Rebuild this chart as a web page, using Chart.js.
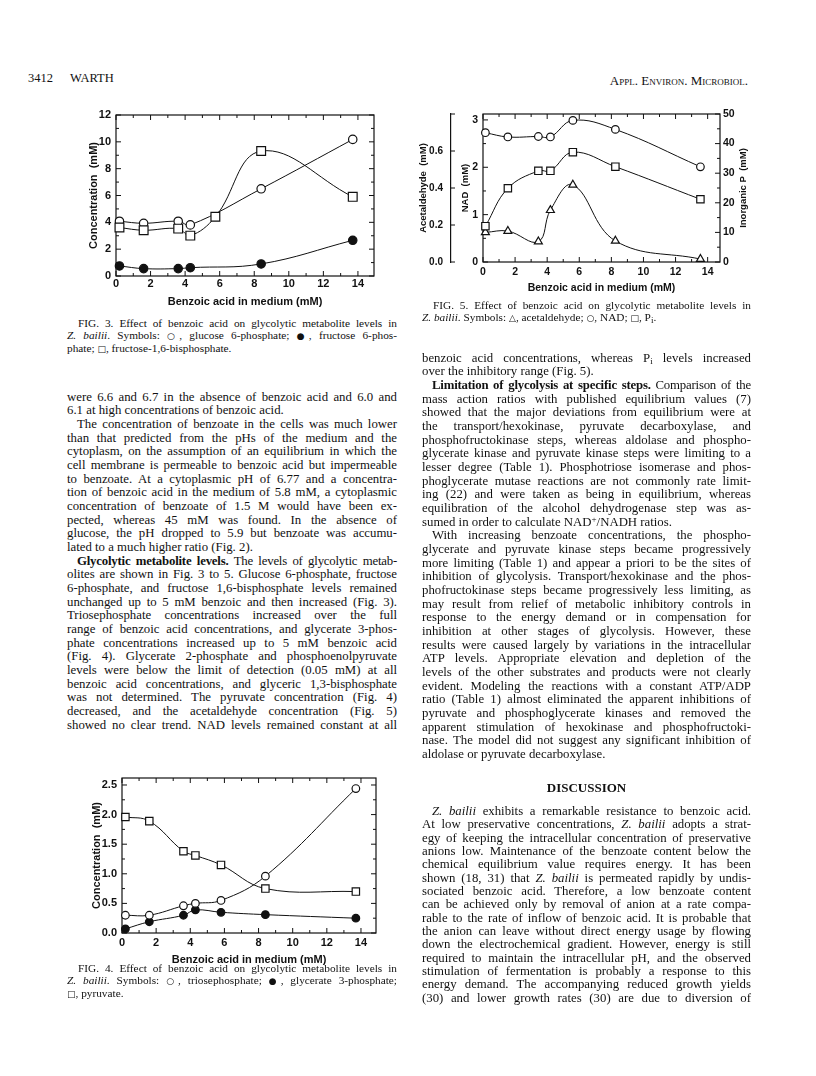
<!DOCTYPE html>
<html>
<head>
<meta charset="utf-8">
<script src="https://cdn.jsdelivr.net/npm/chart.js@4"></script>
<style>
  html, body { margin: 0; padding: 0; background: #fff; }
  body { width: 816px; height: 1076px; position: relative; overflow: hidden; color: #111; }
  .abs { position: absolute; }
  canvas { position: absolute; }
  .hdr { font-family: 'Liberation Serif', serif; font-size: 12.5px; line-height: 14px; }
  .col { position: absolute; font-family: 'Liberation Serif', serif; font-size: 12.8px; }
  .col div { text-align: justify; text-align-last: justify; }
  .col div.e { text-align-last: left; }
  .col div.i { text-indent: 10px; }
  .col div.t { letter-spacing: -0.2px; }
  .cap { position: absolute; font-family: 'Liberation Serif', serif; font-size: 11.3px; line-height: 12px; }
  .cap div { text-align: justify; text-align-last: justify; }
  .cap div.e { text-align-last: left; }
  .cap div.i { text-indent: 11px; }
  sub { font-size: 9px; vertical-align: -2px; line-height: 0; }
  sup { font-size: 9px; vertical-align: 4px; line-height: 0; }
  .sym { font-family: 'DejaVu Sans', sans-serif; font-size: 9px; }
</style>
</head>
<body>

<div class="abs hdr" style="left:28px; top:71px;">3412</div>
<div class="abs hdr" style="left:70px; top:71px;">WARTH</div>
<div class="abs hdr" style="left:560px; width:188px; top:74px; text-align:right; font-variant: small-caps; font-size:13px;">Appl. Environ. Microbiol.</div>

<canvas id="fig3" width="330" height="215" style="left:60px; top:100px;"></canvas>
<canvas id="fig5" width="350" height="200" style="left:410px; top:100px;"></canvas>
<canvas id="fig4" width="330" height="205" style="left:60px; top:765px;"></canvas>

<div class="cap" style="left:67px; width:330px; top:316.7px;">
  <div class="i">FIG. 3. Effect of benzoic acid on glycolytic metabolite levels in</div>
  <div><i>Z. bailii</i>. Symbols: <span class="sym">○</span>, glucose 6-phosphate; <span class="sym">●</span>, fructose 6-phos-</div>
  <div class="e">phate; <span class="sym">□</span>, fructose-1,6-bisphosphate.</div>
</div>

<div class="cap" style="left:422px; width:329px; top:298.5px;">
  <div class="i">FIG. 5. Effect of benzoic acid on glycolytic metabolite levels in</div>
  <div class="e"><i>Z. bailii</i>. Symbols: <span class="sym">△</span>, acetaldehyde; <span class="sym">○</span>, NAD; <span class="sym">□</span>, P<sub>i</sub>.</div>
</div>

<div class="cap" style="left:67px; width:330px; top:962px;">
  <div class="i">FIG. 4. Effect of benzoic acid on glycolytic metabolite levels in</div>
  <div><i>Z. bailii</i>. Symbols: <span class="sym">○</span>, triosephosphate; <span class="sym">●</span>, glycerate 3-phosphate;</div>
  <div class="e"><span class="sym">□</span>, pyruvate.</div>
</div>

<div class="col" style="left:67px; width:330px; top:390.5px; line-height:13.67px;">
  <div>were 6.6 and 6.7 in the absence of benzoic acid and 6.0 and</div>
  <div class="e">6.1 at high concentrations of benzoic acid.</div>
  <div class="i">The concentration of benzoate in the cells was much lower</div>
  <div>than that predicted from the pHs of the medium and the</div>
  <div>cytoplasm, on the assumption of an equilibrium in which the</div>
  <div>cell membrane is permeable to benzoic acid but impermeable</div>
  <div>to benzoate. At a cytoplasmic pH of 6.77 and a concentra-</div>
  <div>tion of benzoic acid in the medium of 5.8 mM, a cytoplasmic</div>
  <div>concentration of benzoate of 1.5 M would have been ex-</div>
  <div>pected, whereas 45 mM was found. In the absence of</div>
  <div>glucose, the pH dropped to 5.9 but benzoate was accumu-</div>
  <div class="e">lated to a much higher ratio (Fig. 2).</div>
  <div class="i t"><b>Glycolytic metabolite levels.</b> The levels of glycolytic metab-</div>
  <div>olites are shown in Fig. 3 to 5. Glucose 6-phosphate, fructose</div>
  <div>6-phosphate, and fructose 1,6-bisphosphate levels remained</div>
  <div>unchanged up to 5 mM benzoic and then increased (Fig. 3).</div>
  <div>Triosephosphate concentrations increased over the full</div>
  <div>range of benzoic acid concentrations, and glycerate 3-phos-</div>
  <div>phate concentrations increased up to 5 mM benzoic acid</div>
  <div>(Fig. 4). Glycerate 2-phosphate and phosphoenolpyruvate</div>
  <div>levels were below the limit of detection (0.05 mM) at all</div>
  <div>benzoic acid concentrations, and glyceric 1,3-bisphosphate</div>
  <div>was not determined. The pyruvate concentration (Fig. 4)</div>
  <div>decreased, and the acetaldehyde concentration (Fig. 5)</div>
  <div>showed no clear trend. NAD levels remained constant at all</div>
</div>

<div class="col" style="left:422px; width:329px; top:351.5px; line-height:13.67px;">
  <div>benzoic acid concentrations, whereas P<sub>i</sub> levels increased</div>
  <div class="e">over the inhibitory range (Fig. 5).</div>
  <div class="i t"><b>Limitation of glycolysis at specific steps.</b> Comparison of the</div>
  <div>mass action ratios with published equilibrium values (7)</div>
  <div>showed that the major deviations from equilibrium were at</div>
  <div>the transport/hexokinase, pyruvate decarboxylase, and</div>
  <div>phosphofructokinase steps, whereas aldolase and phospho-</div>
  <div>glycerate kinase and pyruvate kinase steps were limiting to a</div>
  <div>lesser degree (Table 1). Phosphotriose isomerase and phos-</div>
  <div>phoglycerate mutase reactions are not commonly rate limit-</div>
  <div>ing (22) and were taken as being in equilibrium, whereas</div>
  <div>equilibration of the alcohol dehydrogenase step was as-</div>
  <div class="e">sumed in order to calculate NAD<sup>+</sup>/NADH ratios.</div>
  <div class="i">With increasing benzoate concentrations, the phospho-</div>
  <div>glycerate and pyruvate kinase steps became progressively</div>
  <div>more limiting (Table 1) and appear a priori to be the sites of</div>
  <div>inhibition of glycolysis. Transport/hexokinase and the phos-</div>
  <div>phofructokinase steps became progressively less limiting, as</div>
  <div>may result from relief of metabolic inhibitory controls in</div>
  <div>response to the energy demand or in compensation for</div>
  <div>inhibition at other stages of glycolysis. However, these</div>
  <div>results were caused largely by variations in the intracellular</div>
  <div>ATP levels. Appropriate elevation and depletion of the</div>
  <div>levels of the other substrates and products were not clearly</div>
  <div>evident. Modeling the reactions with a constant ATP/ADP</div>
  <div>ratio (Table 1) almost eliminated the apparent inhibitions of</div>
  <div>pyruvate and phosphoglycerate kinases and removed the</div>
  <div>apparent stimulation of hexokinase and phosphofructoki-</div>
  <div>nase. The model did not suggest any significant inhibition of</div>
  <div class="e">aldolase or pyruvate decarboxylase.</div>
</div>

<div class="abs" style="left:422px; width:329px; top:780px; text-align:center; font-family:'Liberation Serif',serif; font-size:13px; font-weight:bold; line-height:15px;">DISCUSSION</div>

<div class="col" style="left:422px; width:329px; top:805px; line-height:13.35px;">
  <div class="i"><i>Z. bailii</i> exhibits a remarkable resistance to benzoic acid.</div>
  <div>At low preservative concentrations, <i>Z. bailii</i> adopts a strat-</div>
  <div>egy of keeping the intracellular concentration of preservative</div>
  <div>anions low. Maintenance of the benzoate content below the</div>
  <div>chemical equilibrium value requires energy. It has been</div>
  <div>shown (18, 31) that <i>Z. bailii</i> is permeated rapidly by undis-</div>
  <div>sociated benzoic acid. Therefore, a low benzoate content</div>
  <div>can be achieved only by removal of anion at a rate compa-</div>
  <div>rable to the rate of inflow of benzoic acid. It is probable that</div>
  <div>the anion can leave without direct energy usage by flowing</div>
  <div>down the electrochemical gradient. However, energy is still</div>
  <div>required to maintain the intracellular pH, and the observed</div>
  <div>stimulation of fermentation is probably a response to this</div>
  <div>energy demand. The accompanying reduced growth yields</div>
  <div>(30) and lower growth rates (30) are due to diversion of</div>
</div>

<script>
// ---------------- DATA ----------------
// Fig. 3 (x = benzoic acid in medium, mM; y = concentration, mM)
const fig3G6PX = [0.2, 1.6, 3.6, 4.3, 8.4, 13.7];
const fig3G6P  = [4.08, 3.93, 4.08, 3.81, 6.5, 10.18];     // glucose 6-phosphate (open circles)
const fig3F6PX = [0.2, 1.6, 3.6, 4.3, 8.4, 13.7];
const fig3F6P  = [0.75, 0.55, 0.55, 0.62, 0.9, 2.66];       // fructose 6-phosphate (filled circles)
const fig3FBPX = [0.2, 1.6, 3.6, 4.3, 5.75, 8.4, 13.7];
const fig3FBP  = [3.61, 3.41, 3.53, 3.01, 4.41, 9.31, 5.9]; // fructose-1,6-bisphosphate (squares)

// Fig. 4
const fig4X        = [0.2, 1.6, 3.6, 4.3, 5.8, 8.4, 13.7];
const fig4Triose   = [0.30, 0.30, 0.46, 0.50, 0.55, 0.96, 2.44]; // open circles
const fig4Glyc3P   = [0.07, 0.19, 0.30, 0.39, 0.35, 0.31, 0.25]; // filled circles
const fig4Pyruvate = [1.96, 1.89, 1.38, 1.31, 1.15, 0.75, 0.70]; // squares

// Fig. 5
const fig5X            = [0.15, 1.55, 3.45, 4.2, 5.6, 8.25, 13.55];
const fig5Acetaldehyde = [0.16, 0.167, 0.11, 0.28, 0.417, 0.114, 0.016]; // triangles, left outer axis
const fig5NAD          = [2.73, 2.64, 2.65, 2.64, 2.99, 2.80, 2.01];     // circles, NAD axis
const fig5Pi           = [12.1, 24.9, 30.8, 30.8, 37.1, 32.2, 21.2];     // squares, inorganic P axis

// Tick values
const ticksX = [0, 2, 4, 6, 8, 10, 12, 14];
const ticksFig3Y = [0, 2, 4, 6, 8, 10, 12];
const ticksFig4Y = [0, 0.5, 1.0, 1.5, 2.0, 2.5];
const ticksFig5Ac = [0, 0.2, 0.4, 0.6];
const ticksFig5NAD = [0, 1, 2, 3];
const ticksFig5Pi = [0, 10, 20, 30, 40, 50];

// ---------------- HELPERS ----------------
const INK = '#111';
Chart.defaults.font.family = "'Liberation Sans', 'Arial', sans-serif";
Chart.defaults.font.weight = 'bold';
Chart.defaults.color = INK;

function pts(xs, ys) { return xs.map((x, i) => ({ x: x, y: ys[i] })); }

function series(xs, ys, kind, r, axis) {
  const d = {
    data: pts(xs, ys),
    borderColor: INK,
    borderWidth: 1,
    tension: 0.4,
    fill: false,
    clip: false,
    pointRadius: r,
    pointBorderColor: INK,
    pointBorderWidth: 1.2,
    pointBackgroundColor: kind === 'filled' ? INK : '#fff',
    pointStyle: kind === 'square' ? 'rect' : (kind === 'triangle' ? 'triangle' : 'circle')
  };
  if (axis) d.yAxisID = axis;
  return d;
}

function onlyListed(list, digits) {
  return function (v) {
    for (const t of list) if (Math.abs(t - v) < 1e-6) return digits ? v.toFixed(digits) : String(v);
    return null;
  };
}

function frameTicks(specs, extra) {
  return {
    id: 'frameTicks',
    beforeDatasetsDraw(chart) {
      const ctx = chart.ctx, a = chart.chartArea;
      ctx.save();
      ctx.strokeStyle = INK;
      ctx.lineWidth = 1.2;
      ctx.strokeRect(a.left, a.top, a.right - a.left, a.bottom - a.top);
      ctx.lineWidth = 1;
      for (const s of specs) {
        const sc = chart.scales[s.id];
        const n = Math.floor((sc.max - sc.min) / s.minor + 1e-6);
        ctx.beginPath();
        for (let k = 0; k <= n; k++) {
          const v = sc.min + k * s.minor;
          const major = Math.abs(v / s.major - Math.round(v / s.major)) < 1e-6;
          const len = major ? 5 : 3;
          const p = sc.getPixelForValue(v);
          for (const side of s.sides) {
            if (side === 'bottom') { ctx.moveTo(p, a.bottom); ctx.lineTo(p, a.bottom - len); }
            if (side === 'top') { ctx.moveTo(p, a.top); ctx.lineTo(p, a.top + len); }
            if (side === 'left') { ctx.moveTo(a.left, p); ctx.lineTo(a.left + len, p); }
            if (side === 'right') { ctx.moveTo(a.right, p); ctx.lineTo(a.right - len, p); }
            if (side === 'axis' && major) { ctx.moveTo(sc.right, p); ctx.lineTo(sc.right + 4, p); }
          }
        }
        ctx.stroke();
      }
      ctx.restore();
    },
    afterDraw(chart) { if (extra) extra(chart); }
  };
}

function xScale(max, h, fontSize, labelPad, titlePad) {
  return {
    type: 'linear', position: 'bottom', min: 0, max: max,
    grid: { display: false, drawTicks: false, tickLength: 0 }, border: { display: false },
    afterBuildTicks(s) { s.ticks = ticksX.map(v => ({ value: v })); },
    ticks: { autoSkip: false, maxRotation: 0, padding: labelPad, font: { size: fontSize }, callback: onlyListed(ticksX, 0) },
    title: { display: true, text: 'Benzoic acid in medium (mM)', font: { size: fontSize }, padding: { top: 0, bottom: titlePad } },
    afterFit(s) { s.height = h; }
  };
}

function yScale(list, digits, max, w, fontSize, labelPad, titleText, titleSize, titlePad, pos) {
  return {
    type: 'linear', position: pos || 'left', min: 0, max: max,
    grid: { display: false, drawTicks: false, tickLength: 0 }, border: { display: false },
    afterBuildTicks(s) { s.ticks = list.map(v => ({ value: v })); },
    ticks: { autoSkip: false, padding: labelPad, font: { size: fontSize }, callback: onlyListed(list, digits) },
    title: { display: !!titleText, text: titleText || '', font: { size: titleSize }, padding: { top: titlePad, bottom: 0 } },
    afterFit(s) { s.width = w; }
  };
}

const common = {
  responsive: false, animation: false, devicePixelRatio: 1,
  plugins: { legend: { display: false }, tooltip: { enabled: false } }
};

// ---------------- FIG 3 ----------------
new Chart(document.getElementById('fig3'), {
  type: 'line',
  data: { datasets: [
    series(fig3FBPX, fig3FBP, 'square', 6.2),
    series(fig3G6PX, fig3G6P, 'open', 4.2),
    series(fig3F6PX, fig3F6P, 'filled', 4.2)
  ] },
  options: Object.assign({}, common, {
    layout: { padding: { left: 0, right: 16, top: 15, bottom: 0 } },
    scales: {
      x: xScale(14.93, 39, 11, 1, 6),
      y: yScale(ticksFig3Y, 0, 12, 56, 11, 5, 'Concentration  (mM)', 11, 27.4)
    }
  }),
  plugins: [frameTicks([
    { id: 'x', major: 2, minor: 1, sides: ['bottom', 'top'] },
    { id: 'y', major: 2, minor: 1, sides: ['left', 'right'] }
  ])]
});

// ---------------- FIG 4 ----------------
new Chart(document.getElementById('fig4'), {
  type: 'line',
  data: { datasets: [
    series(fig4X, fig4Pyruvate, 'square', 5.2),
    series(fig4X, fig4Triose, 'open', 3.8),
    series(fig4X, fig4Glyc3P, 'filled', 3.8)
  ] },
  options: Object.assign({}, common, {
    layout: { padding: { left: 0, right: 14, top: 13, bottom: 0 } },
    scales: {
      x: xScale(14.88, 37, 11, 3, 3),
      y: yScale(ticksFig4Y, 1, 2.618, 62, 11, 5, 'Concentration  (mM)', 11, 29.9)
    }
  }),
  plugins: [frameTicks([
    { id: 'x', major: 2, minor: 1, sides: ['bottom', 'top'] },
    { id: 'y', major: 0.5, minor: 0.25, sides: ['left', 'right'] }
  ])]
});

// ---------------- FIG 5 ----------------
const yAc = yScale(ticksFig5Ac, 1, 0.8, 41, 10, 8, 'Acetaldehyde  (mM)', 9.5, 7.3);
yAc.weight = 1;
yAc.border = { display: true, color: INK, width: 1.2 };
const yNad = yScale(ticksFig5NAD, 0, 3.125, 32, 10.5, 5, 'NAD  (mM)', 9.5, 8.3);
yNad.weight = 0;
const yPi = yScale(ticksFig5Pi, 0, 50, 40, 10.5, 3, null, 9.5, 0, 'right');

new Chart(document.getElementById('fig5'), {
  type: 'line',
  data: { datasets: [
    series(fig5X, fig5Pi, 'square', 5.2, 'yPi'),
    series(fig5X, fig5NAD, 'open', 3.8, 'yNad'),
    series(fig5X, fig5Acetaldehyde, 'triangle', 4.6, 'yAc')
  ] },
  options: Object.assign({}, common, {
    layout: { padding: { left: 0, right: 0, top: 13, bottom: 0 } },
    scales: {
      x: xScale(14.77, 38, 10.5, 3.5, 5.5),
      yAc: yAc,
      yNad: yNad,
      yPi: yPi
    }
  }),
  plugins: [frameTicks([
    { id: 'x', major: 2, minor: 1, sides: ['bottom', 'top'] },
    { id: 'yNad', major: 1, minor: 0.5, sides: ['left'] },
    { id: 'yPi', major: 10, minor: 5, sides: ['right'] },
    { id: 'yAc', major: 0.2, minor: 0.1, sides: ['axis'] }
  ], function (chart) {
    const ctx = chart.ctx, a = chart.chartArea;
    ctx.save();
    ctx.translate(333, (a.top + a.bottom) / 2);
    ctx.rotate(-Math.PI / 2);
    ctx.font = "bold 9.5px 'Liberation Sans', Arial, sans-serif";
    ctx.fillStyle = INK;
    ctx.textAlign = 'center';
    ctx.textBaseline = 'middle';
    ctx.fillText('Inorganic P  (mM)', 0, 0);
    ctx.restore();
  })]
});
</script>
</body>
</html>
